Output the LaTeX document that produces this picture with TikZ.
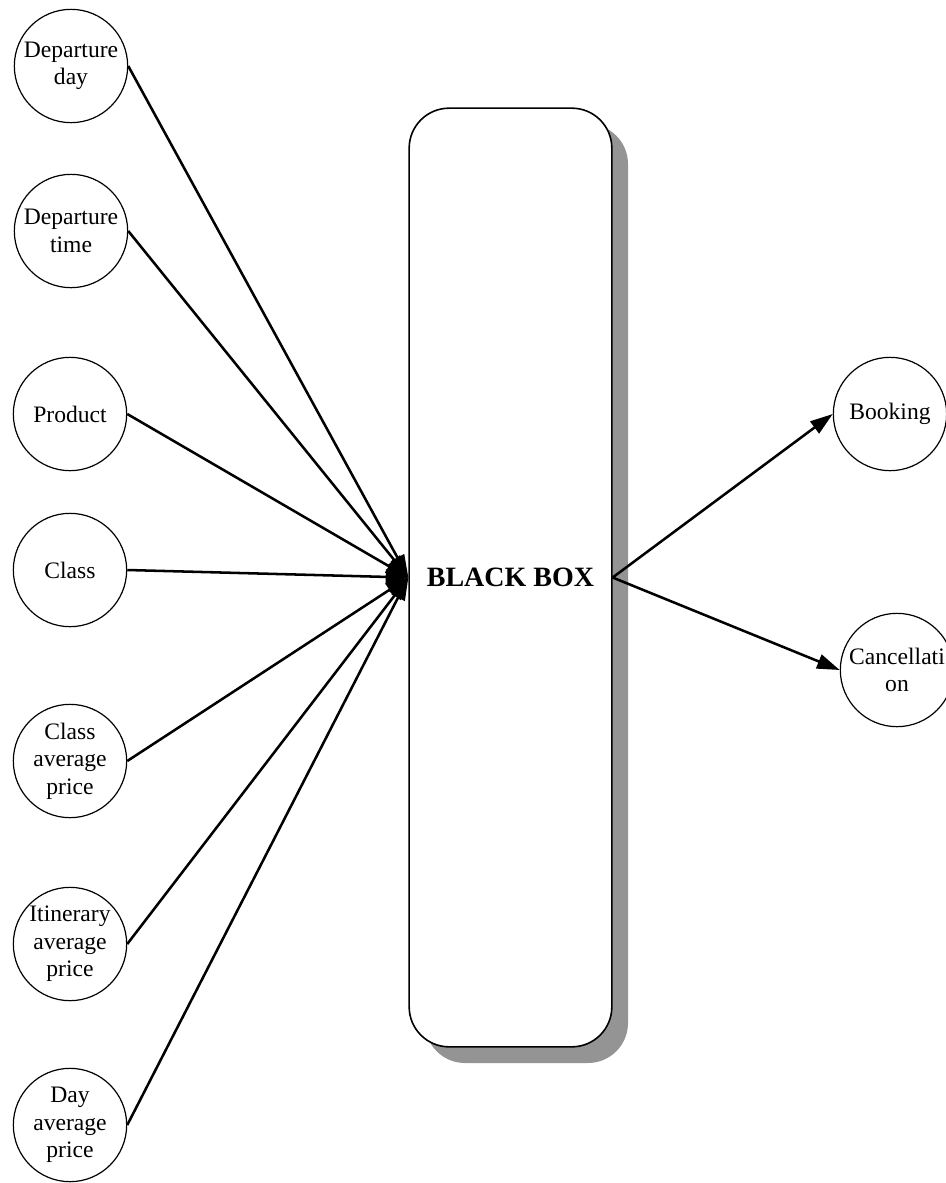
\documentclass[tikz,border=0pt]{standalone}
\usepackage{fontspec}
\setmainfont{Liberation Serif}
\usetikzlibrary{arrows.meta}
\definecolor{shadowgray}{gray}{0.58}
\begin{document}
\begin{tikzpicture}[x=0.75pt,y=-0.75pt,
  inp/.style={circle, draw, line width=0.9pt, minimum size=85pt, inner sep=0pt,
    align=center, font=\fontsize{17.7pt}{20.6pt}\selectfont},
  conn/.style={line width=1.9pt, -{Triangle[length=17pt,width=11pt]}},
  bbox/.style={draw, fill=white, line width=1.2pt, rounded corners=30pt,
    minimum width=152pt, minimum height=704pt, inner sep=0pt,
    font=\fontsize{21pt}{24pt}\selectfont\bfseries}]
\useasboundingbox (0,0) rectangle (946,1183);
% shadow of the black box
\fill[shadowgray, rounded corners=30pt] (425,124) rectangle (628,1063);
\node[bbox] (box) at (510.5,577.5) {BLACK BOX};
% inputs
\node[inp] (dday)  at (71,66)   {Departure\\day};
\node[inp] (dtime) at (71,231)  {Departure\\time};
\node[inp] (prod)  at (70,414)  {Product};
\node[inp] (cls)   at (70,570)  {Class};
\node[inp] (cap)   at (70,761)  {Class\\average\\price};
\node[inp] (iap)   at (70,944)  {Itinerary\\average\\price};
\node[inp] (dap)   at (70,1125) {Day\\average\\price};
% outputs
\node[inp] (book)  at (890,414) {Booking};
\node[inp] (canc)  at (897,670) {Cancellati\\on};
% connectors
\foreach \n in {dday,dtime,prod,cls,cap,iap,dap}
  \draw[conn] (\n.east) -- (box.west);
\draw[conn] (box.east) -- (book.west);
\draw[conn] (box.east) -- (canc.west);
\end{tikzpicture}
\end{document}
